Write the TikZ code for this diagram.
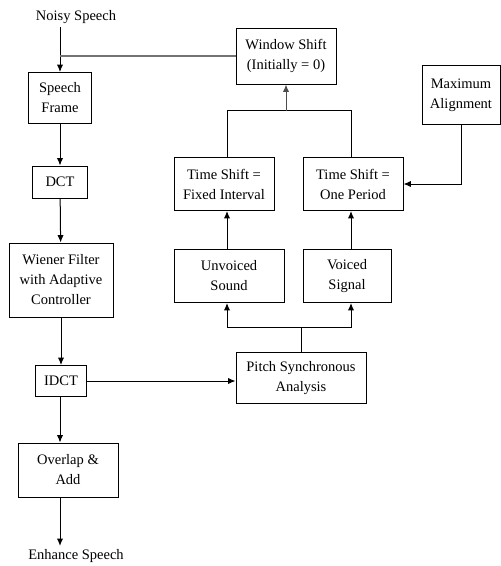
\documentclass[tikz,border=0pt]{standalone}
\usepackage{fontspec}
\setmainfont{Liberation Serif}
\usepackage{tikz}
\usetikzlibrary{arrows.meta,positioning,calc}

\begin{document}
\begin{tikzpicture}[
    x=1pt, y=-1pt,
    box/.style={draw, rectangle, line width=1pt, align=center, inner sep=1pt,
                font=\fontsize{14.5}{20}\selectfont},
    lbl/.style={align=center, font=\fontsize{14.5}{20}\selectfont},
    arrow/.style={-{Latex[length=2.6mm,width=2.2mm]}, line width=1pt},
    link/.style={line width=1pt}
  ]
  \useasboundingbox (0,0) rectangle (501,566);

  % left chain
  \node[lbl] (noisy) at (76,17) {Noisy Speech};
  \node[box, minimum width=63pt, minimum height=51pt] (frame) at (60,98) {Speech\\Frame};
  \node[box, minimum width=55pt, minimum height=32pt] (dct) at (60,182) {DCT};
  \node[box, minimum width=104pt, minimum height=74pt] (wiener) at (61,280) {Wiener Filter\\with Adaptive\\Controller};
  \node[box, minimum width=51pt, minimum height=31pt] (idct) at (61,381) {IDCT};
  \node[box, minimum width=100pt, minimum height=54pt] (overlap) at (68,470) {Overlap \&\\Add};
  \node[lbl] (enhance) at (76,556) {Enhance Speech};

  % right side
  \node[box, minimum width=130pt, minimum height=51pt] (pitch) at (301,378) {Pitch Synchronous\\Analysis};
  \node[box, minimum width=110pt, minimum height=53pt] (unvoiced) at (229,276) {Unvoiced\\Sound};
  \node[box, minimum width=88pt, minimum height=53pt] (voiced) at (347,276) {Voiced\\Signal};
  \node[box, minimum width=100pt, minimum height=53pt] (fixed) at (224,184) {Time Shift =\\Fixed Interval};
  \node[box, minimum width=100pt, minimum height=53pt] (period) at (353,184) {Time Shift =\\One Period};
  \node[box, minimum width=100pt, minimum height=56pt] (window) at (286,56) {Window Shift\\(Initially = 0)};
  \node[box, minimum width=78pt, minimum height=59pt] (maxal) at (461,95) {Maximum\\Alignment};

  \draw[arrow] (noisy.south -| frame.north) -- (frame.north);
  \draw[line width=1.5pt, black!55] (window.west) -- (window.west -| frame.north);
  \draw[arrow] (frame) -- (dct);
  \draw[arrow] (dct) -- (wiener);
  \draw[arrow] (wiener) -- (idct);
  \draw[arrow] (idct.south -| frame.south) -- (overlap.north -| frame.south);
  \draw[arrow] (overlap.south -| frame.south) -- (enhance.north -| frame.south);
  \draw[arrow] (idct.east) -- (idct.east -| pitch.west);

  % pitch analysis split
  \draw[link] (pitch.north) -- ++(0,-25) coordinate (split);
  \draw[arrow] (split) -| ([xshift=-2pt]unvoiced.south);
  \draw[arrow] (split) -| ([xshift=4pt]voiced.south);
  \draw[arrow] ([xshift=-2pt]unvoiced.north) -- ([xshift=-2pt]unvoiced.north |- fixed.south);
  \draw[arrow] ([xshift=4pt]voiced.north) -- ([xshift=4pt]voiced.north |- period.south);

  % merge to window shift
  \coordinate (merge) at ($(window.south)+(0,26)$);
  \draw[link] ([xshift=3pt]fixed.north) |- (merge);
  \draw[link] ([xshift=-2pt]period.north) |- (merge);
  \draw[arrow, black!70] (merge) -- (window.south);
  \draw[arrow] (maxal.south) |- (period.east);
\end{tikzpicture}
\end{document}
